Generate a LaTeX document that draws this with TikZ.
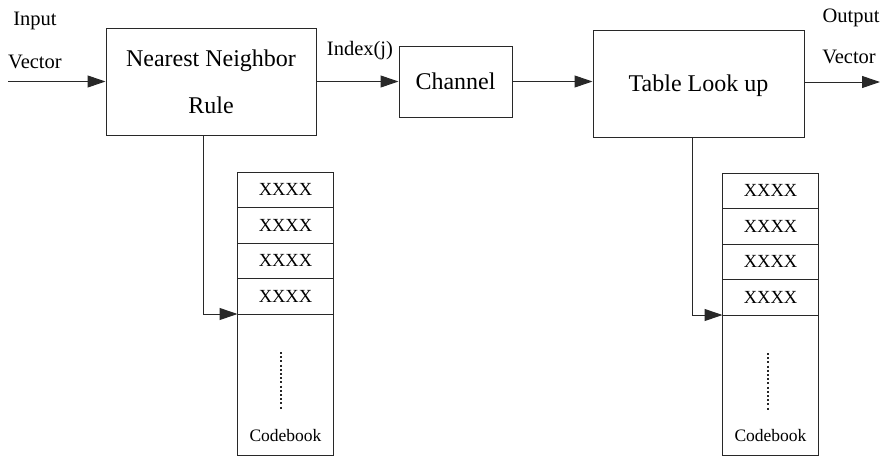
\documentclass[tikz,border=0pt]{standalone}
\usepackage{fontspec}
\setmainfont{Liberation Serif}
\usetikzlibrary{arrows.meta,positioning}
\definecolor{inkgray}{RGB}{40,40,40}
\tikzset{
  block/.style={
    draw=inkgray,
    line width=1pt,
    align=center,
    inner sep=0pt,
    font=\fontsize{24}{47}\selectfont
  },
  cell/.style={
    draw=inkgray,
    line width=0.9pt,
    minimum width=96pt,
    minimum height=35.5pt,
    inner sep=0pt,
    outer sep=0pt,
    font=\fontsize{18.5}{20}\selectfont
  },
  tag/.style={inner sep=0pt, font=\fontsize{20.5}{22}\selectfont},
  booktag/.style={inner sep=0pt, font=\fontsize{17.5}{19}\selectfont},
  dotline/.style={draw=inkgray, line width=2pt, dash pattern=on 2pt off 2.2pt},
  line/.style={-{Triangle[length=18pt,width=12pt]}, line width=1pt, draw=inkgray}
}
\begin{document}
\begin{tikzpicture}[x=1pt,y=-1pt]
        \useasboundingbox (0,0) rectangle (881,458);
        % main blocks
        \node[block, minimum width=210pt, minimum height=107pt] (nn) at (211,81.5) {Nearest Neighbor\\Rule};
        \node[block, minimum width=113pt, minimum height=71pt] (ch) at (455.5,81.5) {Channel};
        \node[block, minimum width=211pt, minimum height=107pt, text depth=-4pt] (tl) at (698.5,83.5) {Table Look up};
        % labels
        \node[tag] (inlab1) at (35,21) {Input};
        \node[tag] (inlab2) at (35,62) {Vector};
        \node[tag] (idxlab) at (360,51) {Index(j)};
        \node[tag] (outlab1) at (851,18) {Output};
        \node[tag] (outlab2) at (849,57) {Vector};
        \coordinate (vin) at (8,81.5);
        \coordinate (vout) at (880,82);
        % left codebook
        \node[cell] (lc1) at (285.5,189.75) {XXXX};
        \node[cell, below=0pt of lc1] (lc2) {XXXX};
        \node[cell, below=0pt of lc2] (lc3) {XXXX};
        \node[cell, below=0pt of lc3] (lc4) {XXXX};
        \node[cell, below=0pt of lc4, minimum height=141pt] (lc5) {};
        \node[booktag] (lcb) at ([yshift=19pt]lc5.south) {Codebook};
        \draw[dotline] ([xshift=-5pt,yshift=-38pt]lc5.north) -- ([xshift=-5pt,yshift=-96pt]lc5.north);
        % right codebook
        \node[cell] (rc1) at (770.5,190.75) {XXXX};
        \node[cell, below=0pt of rc1] (rc2) {XXXX};
        \node[cell, below=0pt of rc2] (rc3) {XXXX};
        \node[cell, below=0pt of rc3] (rc4) {XXXX};
        \node[cell, below=0pt of rc4, minimum height=140pt] (rc5) {};
        \node[booktag] (rcb) at ([yshift=19pt]rc5.south) {Codebook};
        \draw[dotline] ([xshift=-3pt,yshift=-38pt]rc5.north) -- ([xshift=-3pt,yshift=-96pt]rc5.north);
        % connectors
        \draw[line] (vin) -- (nn.west);
        \draw[line] (nn.east) -- (ch.west);
        \draw[line] (ch.east) -- (ch.east -| tl.west);
        \draw[line] (tl.east |- vout) -- (vout);
        \draw[line] ([xshift=-8pt]nn.south) |- (lc4.south west);
        \draw[line] ([xshift=-6.5pt]tl.south) |- (rc4.south west);
      \end{tikzpicture}
\end{document}
